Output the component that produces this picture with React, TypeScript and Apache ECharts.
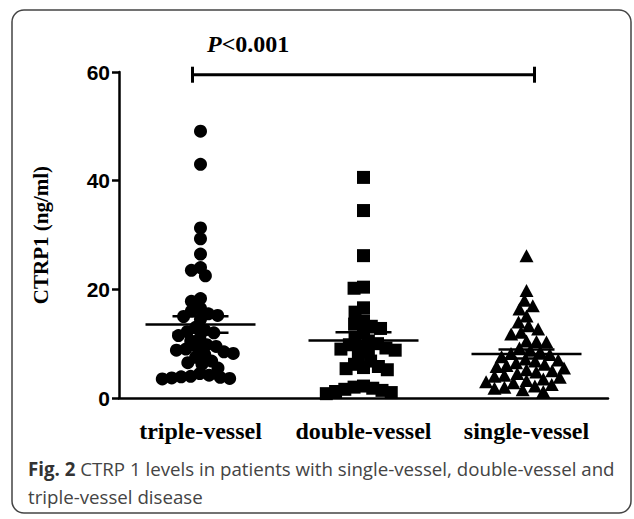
import React, { useEffect, useRef } from "react";
import * as echarts from "echarts";

const categories = ["triple-vessel", "double-vessel", "single-vessel"];
const tripleVessel = [49.1, 43.0, 31.3, 29.3, 26.5, 24.0, 23.5, 22.5, 18.3, 17.8, 16.5, 16.0, 15.5, 15.2, 15.0, 14.5, 13.0, 12.5, 12.2, 12.0, 11.5, 11.0, 10.5, 9.8, 9.5, 9.2, 9.0, 8.8, 8.5, 8.2, 8.0, 7.5, 6.8, 6.5, 6.2, 5.5, 4.5, 4.2, 4.0, 3.9, 3.8, 3.7, 3.6, 3.5];
const doubleVessel = [40.6, 34.5, 26.2, 20.4, 20.2, 16.6, 15.8, 14.2, 13.6, 13.2, 12.8, 12.0, 11.2, 10.5, 10.0, 9.8, 9.5, 9.2, 9.0, 8.8, 8.5, 7.8, 6.8, 6.2, 5.8, 5.6, 5.4, 5.2, 2.2, 2.0, 1.8, 1.6, 1.4, 1.2, 1.0, 0.8];
const singleVessel = [26.2, 19.8, 18.0, 17.0, 16.4, 15.1, 14.0, 13.3, 12.7, 12.1, 11.8, 10.5, 10.4, 10.3, 9.2, 8.8, 8.5, 8.2, 8.0, 7.6, 7.2, 7.0, 6.8, 6.5, 6.2, 6.0, 5.8, 5.5, 5.2, 5.0, 4.8, 4.5, 4.2, 4.0, 3.8, 3.5, 3.2, 3.0, 2.8, 2.5, 2.2, 2.0, 1.8, 1.5, 1.2];
const yTicks = [0, 20, 40, 60];
const bracketLevel = 59.5;
const yAxisName = "CTRP1 (ng/ml)";
const captionBold = "Fig. 2";
const captionLine1 = " CTRP 1 levels in patients with single-vessel, double-vessel and";
const captionLine2 = "triple-vessel disease";

const groups = [tripleVessel, doubleVessel, singleVessel];
const symbols = ["circle", "rect", "triangle"];

function meanSem(arr: number[]) {
  const n = arr.length;
  const m = arr.reduce((a, b) => a + b, 0) / n;
  const sd = Math.sqrt(arr.reduce((a, b) => a + (b - m) * (b - m), 0) / (n - 1));
  return [m, sd / Math.sqrt(n)];
}

export default function App() {
  const ref = useRef<HTMLDivElement>(null);
  useEffect(() => {
    const chart = echarts.init(ref.current!, null, { renderer: "svg" });
    const stats = groups.map((g, i) => {
      const [m, s] = meanSem(g);
      return [i, m, s];
    });
    const serif = "'Liberation Serif', 'Times New Roman', serif";
    const option: any = {
      animation: false,
      backgroundColor: "#fff",
      grid: { left: 119, top: 72, width: 489, height: 326, containLabel: false },
      xAxis: {
        type: "category",
        data: categories,
        jitter: 100,
        jitterOverlap: false,
        jitterMargin: -3.5,
        axisLine: { lineStyle: { color: "#000", width: 2.5 } },
        axisTick: { alignWithLabel: true, length: 7, lineStyle: { color: "#000", width: 2.5 } },
        axisLabel: {
          interval: 0,
          hideOverlap: false,
          color: "#000",
          fontFamily: serif,
          fontWeight: "bold",
          fontSize: 24,
          margin: 21,
        },
      },
      yAxis: {
        type: "value",
        min: 0,
        max: 60,
        interval: 20,
        name: yAxisName,
        nameLocation: "middle",
        nameGap: 68,
        nameTextStyle: { color: "#000", fontFamily: serif, fontWeight: "bold", fontSize: 21 },
        axisLine: { show: true, lineStyle: { color: "#000", width: 2.5 } },
        axisTick: { show: true, length: 7, lineStyle: { color: "#000", width: 2.5 } },
        axisLabel: {
          color: "#000",
          fontFamily: "'Liberation Sans', Arial, sans-serif",
          fontWeight: "bold",
          fontSize: 21,
          margin: 9,
          formatter: (v: number) => (yTicks.includes(v) ? String(v) : ""),
        },
        splitLine: { show: false },
      },
      series: [
        ...groups.map((g, i) => ({
          type: "scatter",
          symbol: symbols[i],
          symbolSize: i === 2 ? [14, 13] : 13,
          itemStyle: { color: "#000", opacity: 1 },
          data: g.map((v) => [categories[i], v]),
          z: 2,
        })),
        {
          type: "custom",
          z: 5,
          data: stats,
          encode: { x: 0, y: 1 },
          renderItem: (_p: any, api: any) => {
            const c = api.value(0);
            const m = api.value(1);
            const s = api.value(2);
            const p = api.coord([c, m]);
            const pu = api.coord([c, m + s]);
            const pd = api.coord([c, m - s]);
            const st = { stroke: "#000", lineWidth: 2.5 };
            return {
              type: "group",
              children: [
                { type: "line", shape: { x1: p[0] - 55, y1: p[1], x2: p[0] + 55, y2: p[1] }, style: st },
                { type: "line", shape: { x1: pu[0] - 28, y1: pu[1], x2: pu[0] + 28, y2: pu[1] }, style: st },
                { type: "line", shape: { x1: pd[0] - 28, y1: pd[1], x2: pd[0] + 28, y2: pd[1] }, style: st },
                { type: "line", shape: { x1: p[0], y1: pu[1], x2: p[0], y2: pd[1] }, style: st },
              ],
            };
          },
        },
        {
          type: "custom",
          z: 5,
          data: [[0, 2, bracketLevel]],
          encode: { x: [0, 1], y: 2 },
          renderItem: (_p: any, api: any) => {
            const a = api.coord([api.value(0), api.value(2)]);
            const b = api.coord([api.value(1), api.value(2)]);
            const st = { stroke: "#000", lineWidth: 3 };
            const x1 = a[0] - 8;
            const x2 = b[0] + 8;
            return {
              type: "group",
              children: [
                { type: "line", shape: { x1, y1: a[1], x2, y2: a[1] }, style: st },
                { type: "line", shape: { x1, y1: a[1] - 8, x2: x1, y2: a[1] + 8 }, style: st },
                { type: "line", shape: { x1: x2, y1: a[1] - 8, x2, y2: a[1] + 8 }, style: st },
              ],
            };
          },
        },
      ],
      graphic: [
        {
          type: "rect",
          shape: { x: 12, y: 10, width: 619, height: 503, r: 12 },
          style: { fill: "none", stroke: "#444", lineWidth: 1.5 },
          z: 0,
        },
        {
          type: "text",
          left: 207,
          top: 32,
          style: {
            text: "{i|P}{n|<0.001}",
            rich: {
              i: { fontFamily: serif, fontStyle: "italic", fontWeight: "bold", fontSize: 24, fill: "#000" },
              n: { fontFamily: serif, fontWeight: "bold", fontSize: 24, fill: "#000" },
            },
          },
        },
        {
          type: "text",
          left: 28,
          top: 459,
          style: {
            text: "{b|" + captionBold + "}{r|" + captionLine1 + "}\n{r|" + captionLine2 + "}",
            rich: {
              b: { fontFamily: "'Open Sans', sans-serif", fontWeight: "bold", fontSize: 18.7, fill: "#333", lineHeight: 28 },
              r: { fontFamily: "'Open Sans', sans-serif", fontSize: 18.7, fill: "#444", lineHeight: 28 },
            },
          },
        },
      ],
    };
    chart.setOption(option);
    return () => chart.dispose();
  }, []);
  return <div ref={ref} style={{ position: "absolute", left: 0, top: 0, width: 634, height: 519 }} />;
}
